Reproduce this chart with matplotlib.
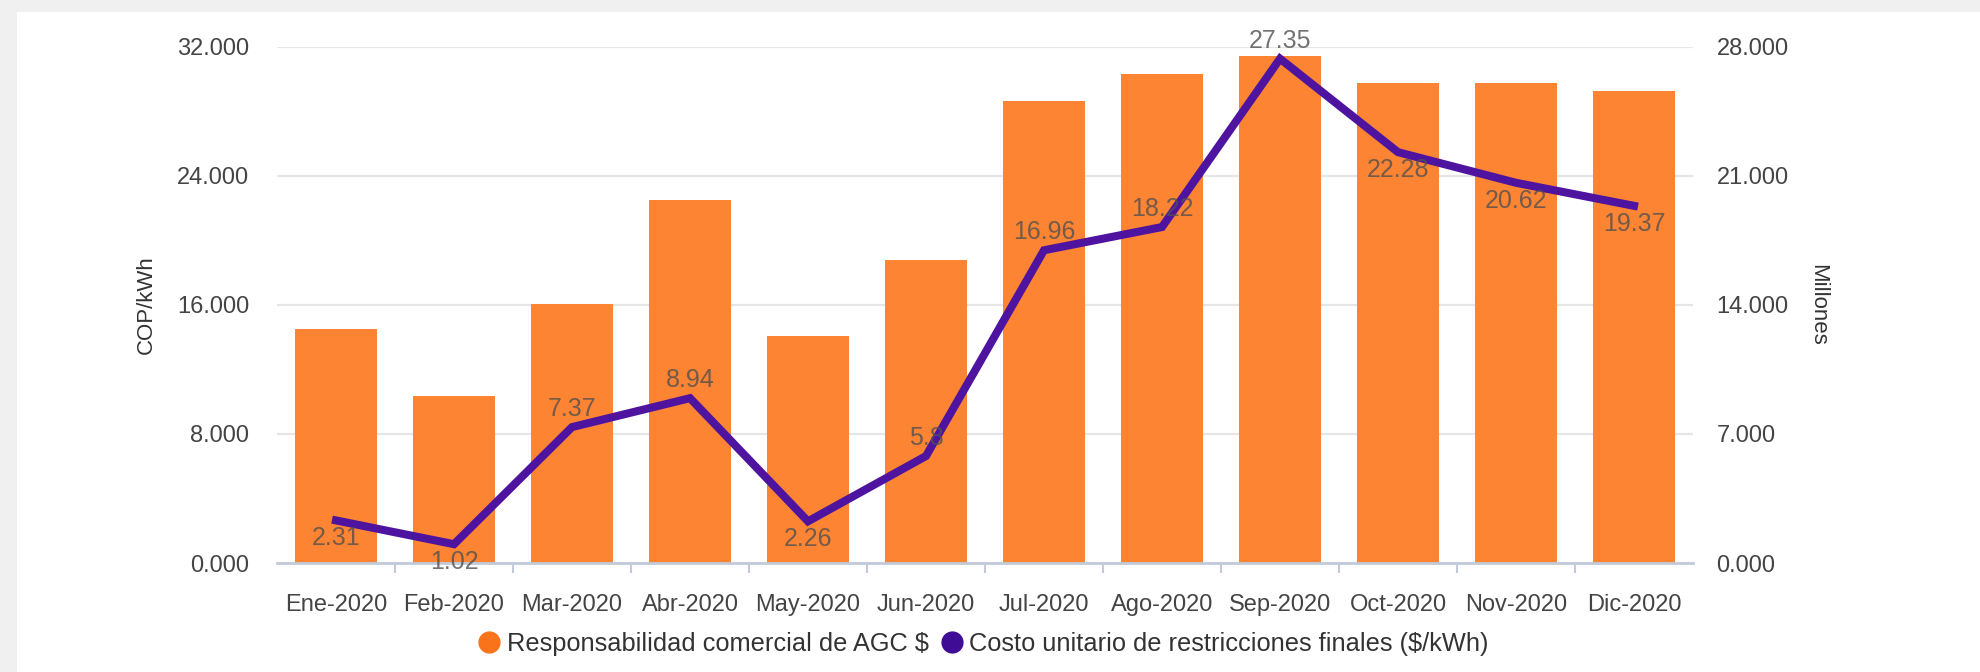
import matplotlib
matplotlib.use("Agg")
import matplotlib.pyplot as plt
from matplotlib.lines import Line2D
from matplotlib.patches import Rectangle

plt.rcParams['font.family'] = ['Liberation Sans', 'DejaVu Sans']

# data
meses = ['Ene-2020', 'Feb-2020', 'Mar-2020', 'Abr-2020', 'May-2020', 'Jun-2020',
         'Jul-2020', 'Ago-2020', 'Sep-2020', 'Oct-2020', 'Nov-2020', 'Dic-2020']
responsabilidad_agc = [14.51, 10.36, 16.06, 22.51, 14.08, 18.79,
                       28.65, 30.33, 31.44, 29.77, 29.77, 29.27]
costo_unitario = [2.31, 1.02, 7.37, 8.94, 2.26, 5.80,
                  16.96, 18.22, 27.35, 22.28, 20.62, 19.37]
ticks_izq = [0, 8, 16, 24, 32]
ticks_der = [0, 7, 14, 21, 28]
# where each data label sits relative to its point
label_pos = ['below', 'below', 'above', 'above', 'below', 'above',
             'above', 'above', 'above', 'below', 'below', 'below']

naranja = '#FD8432'
morado = '#4E14A0'
txt = '#444444'

fig = plt.figure(figsize=(19.81, 6.72), dpi=100)
fig.patch.set_facecolor('#f0f0f0')
# white card, grey margin only at top and left
fig.patches.append(Rectangle((17 / 1981, 0), 1, 1 - 12 / 672, transform=fig.transFigure,
                             facecolor='white', edgecolor='none', zorder=-5))

ax = fig.add_axes([277 / 1981, 1 - 563 / 672, 1416 / 1981, (563 - 46.7) / 672])
ax.set_facecolor('none')
x = list(range(len(meses)))
ax.bar(x, responsabilidad_agc, width=0.695, color=naranja, zorder=2)
ax.set_xlim(-0.5, len(meses) - 0.5)
ax.set_ylim(0, 32)
ax.set_yticks(ticks_izq)
ax.set_yticklabels(['{:.3f}'.format(v) for v in ticks_izq])
ax.grid(axis='y', color='#e6e6e6', linewidth=1.6, zorder=0)
ax.set_axisbelow(True)
for s in ['top', 'left', 'right']:
    ax.spines[s].set_visible(False)
ax.spines['bottom'].set_color('#c0cad8')
ax.spines['bottom'].set_linewidth(2)
ax.spines['bottom'].set_zorder(5)

ax.set_xticks(x)
ax.set_xticklabels(meses)
ax.set_xticks([i + 0.5 for i in x[:-1]], minor=True)
ax.tick_params(axis='x', which='major', length=0, pad=22, labelsize=17, labelcolor=txt)
ax.tick_params(axis='x', which='minor', length=7, width=1.5, color='#c0cad8')
ax.tick_params(axis='y', length=0, pad=20, labelsize=17, labelcolor=txt)
ax.set_ylabel('COP/kWh', fontsize=16, color='#333333')
ax.yaxis.set_label_coords(-0.0847, 0.5)

ax2 = ax.twinx()
ax2.plot(x, costo_unitario, color=morado, linewidth=5.8, solid_joinstyle='miter', zorder=3)
ax2.set_ylim(0, 28)
ax2.set_yticks(ticks_der)
ax2.set_yticklabels(['{:.3f}'.format(v) for v in ticks_der])
ax2.tick_params(axis='y', length=0, pad=17, labelsize=17, labelcolor=txt)
for s in ['top', 'left', 'right', 'bottom']:
    ax2.spines[s].set_visible(False)
ax2.set_ylabel('Millones', fontsize=16, color='#333333', rotation=270)
ax2.yaxis.set_label_coords(1.0953, 0.5)

for xi, v, pos in zip(x, costo_unitario, label_pos):
    off = 13 if pos == 'above' else -13
    ax2.annotate('{:g}'.format(v), (xi, v), xytext=(0, off), textcoords='offset points',
                 ha='center', va='center', fontsize=18, color='#505050', alpha=0.8, zorder=4)

handles = [Line2D([], [], linestyle='none', marker='o', markersize=15, color='#F9731A'),
           Line2D([], [], linestyle='none', marker='o', markersize=15, color='#3F0C96')]
fig.legend(handles, ['Responsabilidad comercial de AGC $',
                     'Costo unitario de restricciones finales ($/kWh)'],
           loc='center', bbox_to_anchor=(984 / 1981, 1 - 644 / 672), ncol=2, frameon=False,
           fontsize=18.3, handlelength=0.8, handletextpad=0.3, columnspacing=0.5,
           labelcolor='#333333')

fig.savefig('out.png', dpi=100, facecolor=fig.get_facecolor())
